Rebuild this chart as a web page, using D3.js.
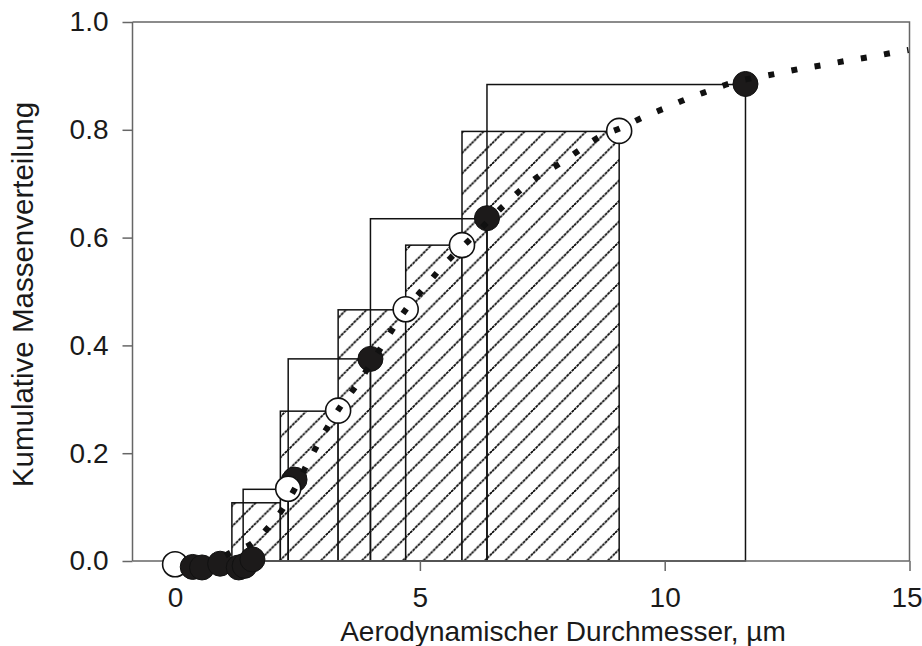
<!DOCTYPE html>
<html>
<head>
<meta charset="utf-8">
<script src="https://cdnjs.cloudflare.com/ajax/libs/d3/7.8.5/d3.min.js"></script>
<style>
  html, body { margin: 0; padding: 0; background: #fff; }
  svg { display: block; }
  text { font-family: "Liberation Sans", Arial, sans-serif; fill: #1a1a1a; }
</style>
</head>
<body>
<div id="chart"></div>
<script>
// ---- data ----
const xTicks = [0, 5, 10, 15];
const yTicks = [0.0, 0.2, 0.4, 0.6, 0.8, 1.0];

// hatched bars (stage boundaries and cumulative heights)
const hatchedEdges = [1.16, 2.15, 3.33, 4.71, 5.86, 9.07];
const hatchedHeights = [0.108, 0.278, 0.466, 0.586, 0.797];

// open (unfilled) bars
const openBarEdges = [1.39, 2.31, 3.99, 6.37, 11.65];
const openBarHeights = [0.133, 0.375, 0.635, 0.884];

// open circles
const openX = [0.0, 2.31, 3.33, 4.71, 5.86, 9.07];
const openY = [-0.006, 0.134, 0.279, 0.467, 0.586, 0.798];

// filled circles
const filledX = [0.36, 0.55, 0.92, 1.30, 1.42, 1.58, 2.44, 3.99, 6.37, 11.65];
const filledY = [-0.011, -0.012, -0.005, -0.012, -0.009, 0.003, 0.151, 0.375, 0.636, 0.885];

// dotted fitted curve
const curveX = [0.85, 1.12, 1.57, 1.92, 2.21, 2.45, 2.67, 2.90, 3.13, 3.39, 3.68, 4.22, 4.47, 4.74, 5.06, 5.37, 5.69, 6.04, 6.72, 7.08, 7.46, 7.87, 8.27, 8.67, 9.12, 9.55, 10.0, 10.44, 10.89, 11.33, 12.28, 12.76, 13.23, 13.71, 14.18, 14.66, 14.98];
const curveY = [0.0, 0.015, 0.033, 0.064, 0.098, 0.135, 0.175, 0.214, 0.251, 0.288, 0.323, 0.398, 0.434, 0.470, 0.504, 0.537, 0.568, 0.598, 0.660, 0.690, 0.716, 0.738, 0.763, 0.787, 0.804, 0.823, 0.840, 0.857, 0.872, 0.886, 0.904, 0.913, 0.920, 0.928, 0.935, 0.943, 0.948];

const xTitle = "Aerodynamischer Durchmesser, µm";
const yTitle = "Kumulative Massenverteilung";

// ---- layout ----
const W = 922, H = 646;
const margin = { top: 22, right: 12.5, bottom: 85, left: 132.5 };

const svg = d3.select("#chart").append("svg").attr("width", W).attr("height", H);

const x = d3.scaleLinear().domain([-0.87, 15]).range([margin.left, W - margin.right]);
const y = d3.scaleLinear().domain([0, 1]).range([H - margin.bottom, margin.top]);

const defs = svg.append("defs");
const P = 20.5;
const pat = defs.append("pattern")
  .attr("id", "hatch").attr("patternUnits", "userSpaceOnUse")
  .attr("width", P).attr("height", P);
pat.append("rect").attr("width", P).attr("height", P).attr("fill", "#fff");
pat.append("path")
  .attr("d", `M0,${P} L${P},0 M${-P/4},${P/4} L${P/4},${-P/4} M${3*P/4},${5*P/4} L${5*P/4},${3*P/4}`)
  .attr("stroke", "#000").attr("stroke-width", 1.7).attr("stroke-dasharray", "3 0.7");

// hatched bars
const hatched = hatchedHeights.map((h, i) => ({ x0: hatchedEdges[i], x1: hatchedEdges[i + 1], h }));
svg.append("g").selectAll("rect").data(hatched).join("rect")
  .attr("x", d => x(d.x0)).attr("y", d => y(d.h))
  .attr("width", d => x(d.x1) - x(d.x0)).attr("height", d => y(0) - y(d.h))
  .attr("fill", "url(#hatch)").attr("stroke", "#111").attr("stroke-width", 1.5);

// open bars
const openBars = openBarHeights.map((h, i) => ({ x0: openBarEdges[i], x1: openBarEdges[i + 1], h }));
svg.append("g").selectAll("rect").data(openBars).join("rect")
  .attr("x", d => x(d.x0)).attr("y", d => y(d.h))
  .attr("width", d => x(d.x1) - x(d.x0)).attr("height", d => y(0) - y(d.h))
  .attr("fill", "none").attr("stroke", "#111").attr("stroke-width", 1.5);

// axes
const axisColor = "#666";
const xAxis = d3.axisBottom(x).tickValues(xTicks).tickSize(10).tickPadding(16).tickFormat(d3.format("d"));
const gx = svg.append("g").attr("transform", `translate(0,${y(0)})`).call(xAxis);
const yAxis = d3.axisLeft(y).tickValues(yTicks).tickSize(10).tickPadding(14).tickFormat(d3.format(".1f"));
const gy = svg.append("g").attr("transform", `translate(${x.range()[0]},0)`).call(yAxis);
[gx, gy].forEach(g => {
  g.select(".domain").attr("stroke", axisColor).attr("stroke-width", 1.5);
  g.selectAll(".tick line").attr("stroke", axisColor).attr("stroke-width", 1.5);
  g.selectAll(".tick text").attr("font-size", 28).attr("fill", "#1a1a1a")
    .attr("font-family", '"Liberation Sans", Arial, sans-serif');
});
gx.selectAll(".tick text").filter(d => d === 15).attr("dx", -3);
gx.select(".domain").attr("d", `M${x.range()[0]},0H${x.range()[1]}`);
gy.select(".domain").attr("d", `M0,${y.range()[0]}V${y.range()[1]}`);
// top and right frame
svg.append("path")
  .attr("d", `M${x.range()[0]},${y(1)}H${x.range()[1]}V${y(0)}`)
  .attr("fill", "none").attr("stroke", axisColor).attr("stroke-width", 1.5);

// circles: open circle at origin drawn beneath filled ones
const openPts = openX.map((v, i) => ({ x: v, y: openY[i] }));
const filledPts = filledX.map((v, i) => ({ x: v, y: filledY[i] }));
const R = 12.5;
svg.append("g").selectAll("circle").data(openPts.filter(d => d.x < 1)).join("circle")
  .attr("cx", d => x(d.x)).attr("cy", d => y(d.y)).attr("r", R)
  .attr("fill", "#fff").attr("stroke", "#111").attr("stroke-width", 1.6);
svg.append("g").selectAll("circle").data(filledPts).join("circle")
  .attr("cx", d => x(d.x)).attr("cy", d => y(d.y)).attr("r", R)
  .attr("fill", "#1c1a1a").attr("stroke", "#111").attr("stroke-width", 1);
svg.append("g").selectAll("circle").data(openPts.filter(d => d.x >= 1)).join("circle")
  .attr("cx", d => x(d.x)).attr("cy", d => y(d.y)).attr("r", R)
  .attr("fill", "#fff").attr("stroke", "#111").attr("stroke-width", 1.6);

// dotted curve
const curvePts = curveX.map((v, i) => [v, curveY[i]]);
const line = d3.line().x(d => x(d[0])).y(d => y(d[1])).curve(d3.curveMonotoneX);
svg.append("path").datum(curvePts).attr("d", line)
  .attr("fill", "none").attr("stroke", "#111").attr("stroke-width", 6)
  .attr("stroke-dasharray", "6 17.5").attr("stroke-dashoffset", -10);

// titles
svg.append("text").attr("x", 563).attr("y", 641)
  .attr("text-anchor", "middle").attr("font-size", 28).text(xTitle);
svg.append("text")
  .attr("transform", `translate(33,${(y(0) + y(1)) / 2 + 3}) rotate(-90)`)
  .attr("text-anchor", "middle").attr("font-size", 29.5).text(yTitle);
</script>
</body>
</html>
